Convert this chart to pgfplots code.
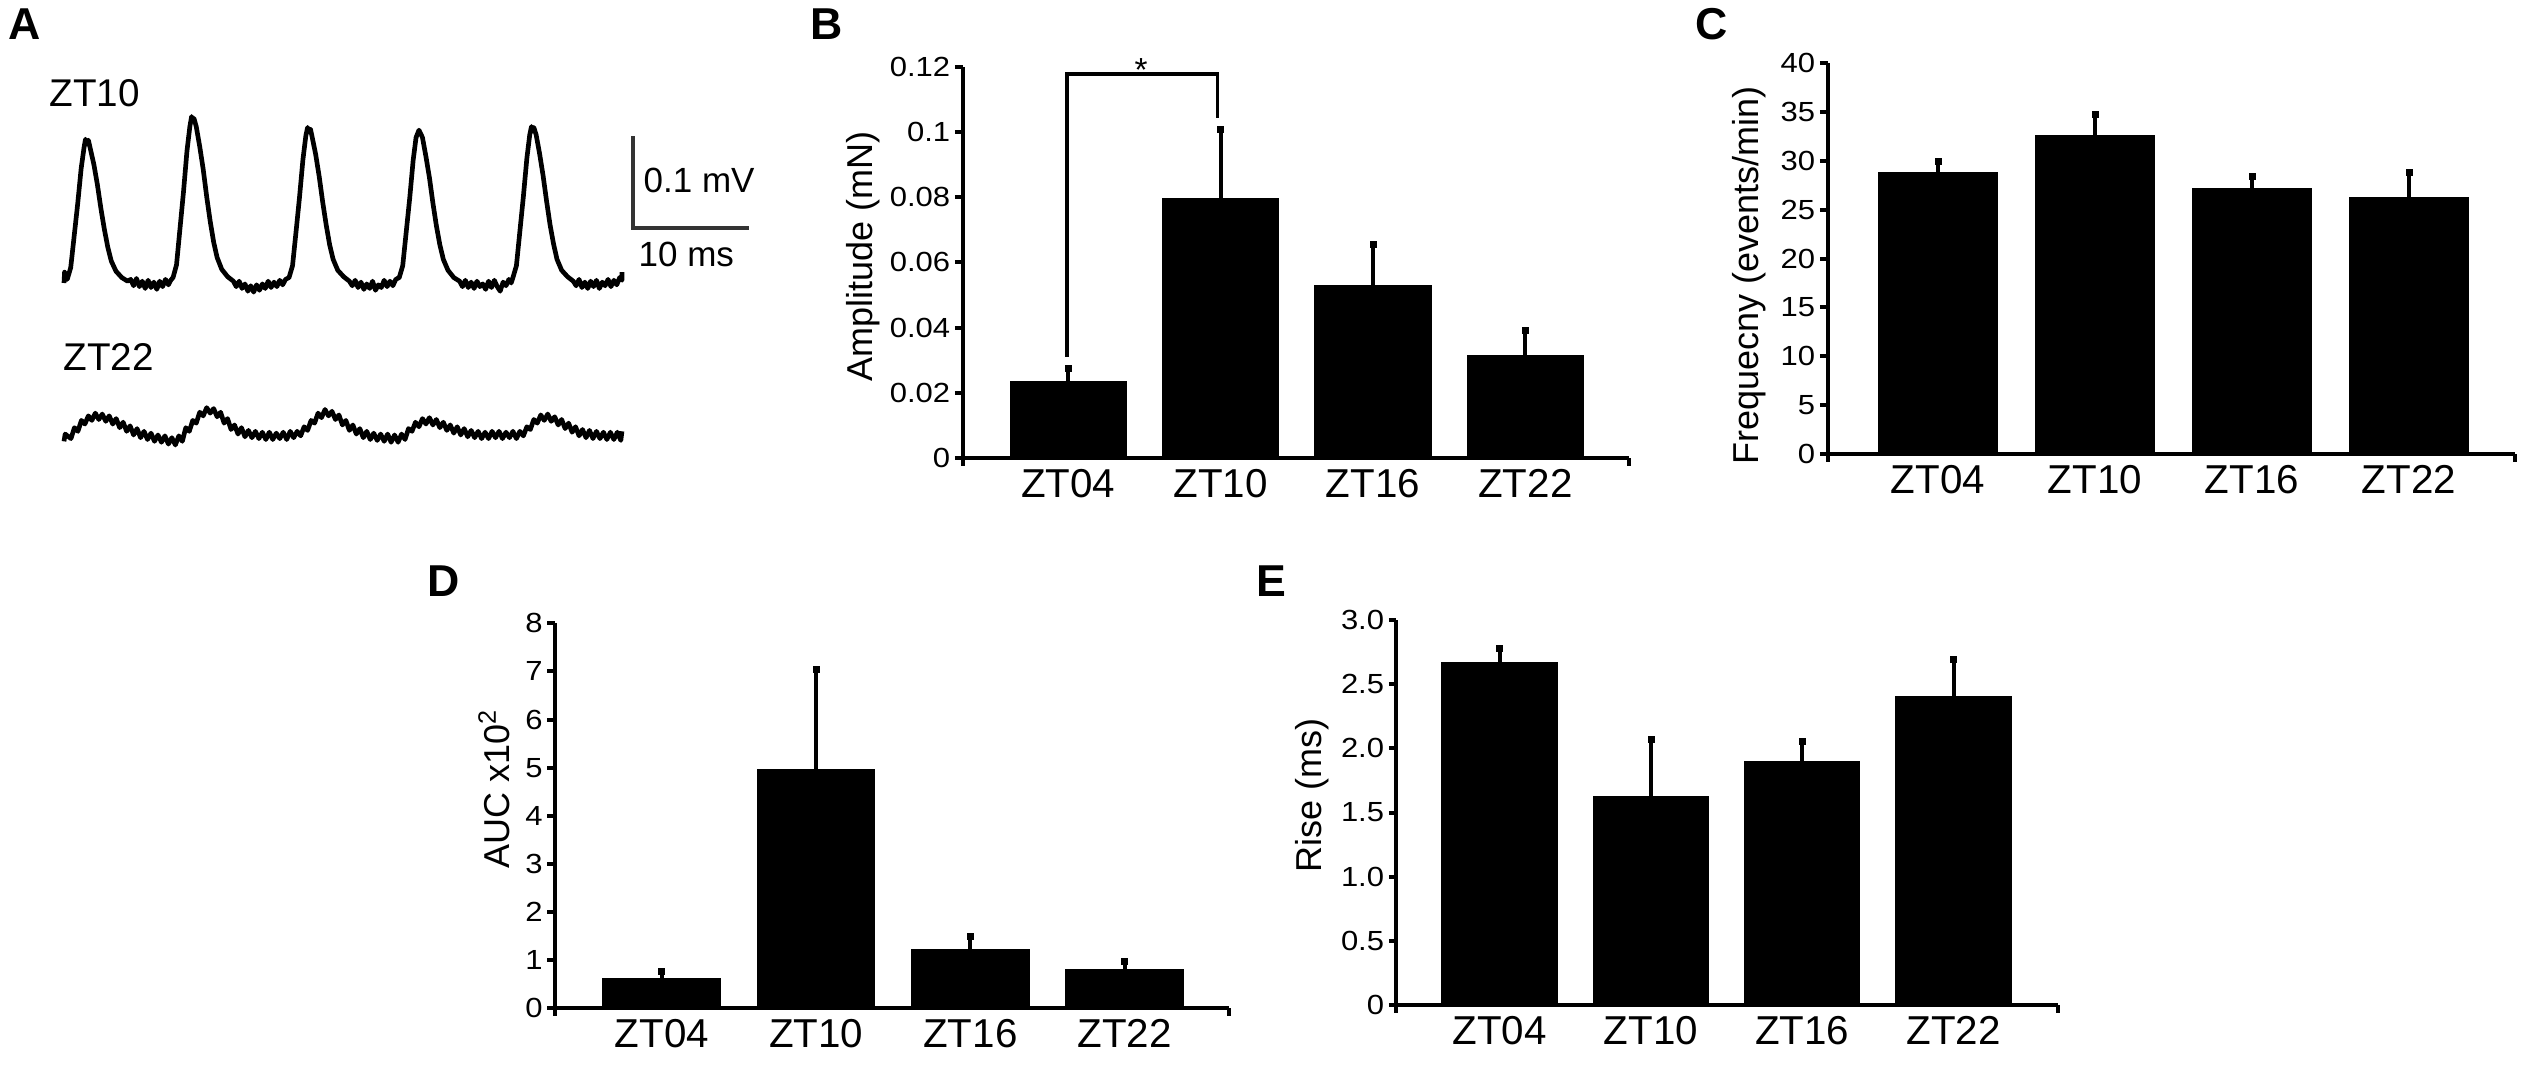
\documentclass[border=0pt]{standalone}
\usepackage{pgfplots}
\pgfplotsset{compat=1.18}
\usepackage{fontspec}
\setmainfont{Liberation Sans}
\newfontfamily\tickfont{Liberation Sans}[FakeStretch=1.12]
\pgfplotsset{
  barax/.style={
    scale only axis, clip=false,
    axis lines=left,
    axis line style={line width=1.2pt,-},
    tick align=outside,
    major tick length=2.3pt,
    ytick style={line width=1.2pt,black},
    xtick style={draw=none},
    xtick={1,2,3,4},
    xticklabels={ZT04,ZT10,ZT16,ZT22},
    ymin=0,
    x tick label style={font=\fontsize{12.1}{14}\selectfont, inner sep=0pt, anchor=north, yshift=-0.8pt},
    y tick label style={font=\tickfont\fontsize{8.3}{10}\selectfont, inner sep=0pt, anchor=east, xshift=-1.2pt},
    ylabel style={font=\fontsize{10.8}{13}\selectfont, anchor=base, inner sep=0pt},
  },
  barplot/.style={ybar, bar width=0.76, fill=black, draw=black, line width=0.4pt,
    error bars/.cd, y dir=plus, y explicit,
    error bar style={line width=1.2pt, black},
    error mark=square*, error mark options={mark size=0.9pt, line width=0.2pt, black}},
}
\begin{document}
\begin{tikzpicture}
\useasboundingbox (0pt,0pt) rectangle (759.9pt,-321.3pt);

% ---------------- Panel A : traces ----------------
\begin{axis}[at={(0pt,-144pt)}, anchor=south west, scale only axis, hide axis, clip=false,
  width=228pt, height=126pt, xmin=-5.517, xmax=60, ymin=-0.2165, ymax=0.2451]
\addplot[black, line width=1.4pt, line join=round] coordinates {
(0,0.000) (0.05,0.012) (0.15,0.004)
(0.28,0.004) (0.58,0.017) (0.88,0.052) (1.18,0.087) (1.48,0.126) (1.73,0.149) (1.85,0.158) (1.98,0.153) (2.1,0.157) (2.28,0.147) (2.58,0.130) (2.88,0.108) (3.18,0.082) (3.48,0.059) (3.78,0.039) (4.08,0.024) (4.48,0.013) (4.98,0.006) (5.48,0.002)
(5.75,0.004) (6.0,-0.003) (6.25,0.005) (6.5,-0.004) (6.75,0.002) (7.0,-0.006) (7.25,0.003) (7.5,-0.005) (7.75,0.001) (8.0,-0.007) (8.25,0.002) (8.5,-0.004) (8.75,0.004) (9.0,-0.002) (9.2,0.003)
(9.4,0.006) (9.7,0.020) (10.0,0.060) (10.3,0.100) (10.6,0.145) (10.85,0.172) (11.0,0.183) (11.1,0.178) (11.2,0.181) (11.4,0.172) (11.7,0.150) (12.0,0.125) (12.3,0.095) (12.6,0.068) (12.9,0.045) (13.2,0.028) (13.6,0.015) (14.1,0.007) (14.6,0.002)
(14.85,-0.004) (15.1,0.002) (15.35,-0.006) (15.6,-0.001) (15.85,-0.009) (16.1,-0.003) (16.35,-0.010) (16.6,-0.002) (16.85,-0.008) (17.1,-0.001) (17.35,-0.006) (17.6,0.002) (17.85,-0.005) (18.1,0.001) (18.35,-0.004) (18.6,0.003) (18.85,-0.002) (19.1,0.004)
(19.4,0.006) (19.7,0.019) (20.0,0.056) (20.3,0.094) (20.6,0.136) (20.85,0.162) (21.0,0.171) (21.1,0.166) (21.25,0.169) (21.4,0.160) (21.7,0.141) (22.0,0.117) (22.3,0.089) (22.6,0.064) (22.9,0.042) (23.2,0.026) (23.6,0.014) (24.1,0.007) (24.6,0.002)
(24.85,-0.003) (25.1,0.003) (25.35,-0.005) (25.6,0.001) (25.85,-0.007) (26.1,-0.001) (26.35,-0.006) (26.6,0.002) (26.85,-0.008) (27.1,-0.002) (27.35,-0.005) (27.6,0.003) (27.85,-0.004) (28.1,0.002) (28.35,-0.003) (28.6,0.004)
(28.9,0.006) (29.2,0.019) (29.5,0.056) (29.8,0.093) (30.1,0.135) (30.35,0.160) (30.6,0.168) (30.9,0.160) (31.2,0.139) (31.5,0.116) (31.8,0.088) (32.1,0.063) (32.4,0.042) (32.7,0.026) (33.1,0.014) (33.6,0.006) (34.1,0.002)
(34.35,-0.004) (34.6,0.003) (34.85,-0.005) (35.1,0.001) (35.35,-0.006) (35.6,0.002) (35.85,-0.004) (36.1,-0.001) (36.35,-0.007) (36.6,0.002) (36.85,-0.005) (37.1,0.003) (37.35,-0.004) (37.6,-0.009) (37.85,0.001) (38.1,-0.003) (38.35,0.004) (38.55,0.000)
(38.7,0.006) (39.0,0.019) (39.3,0.057) (39.6,0.095) (39.9,0.137) (40.15,0.163) (40.3,0.172) (40.4,0.167) (40.5,0.171) (40.7,0.163) (41.0,0.142) (41.3,0.118) (41.6,0.090) (41.9,0.064) (42.2,0.043) (42.5,0.026) (42.9,0.014) (43.4,0.007) (43.9,0.002)
(44.15,-0.003) (44.4,0.004) (44.65,-0.005) (44.9,0.001) (45.15,-0.006) (45.4,0.002) (45.65,-0.004) (45.9,0.003) (46.15,-0.006) (46.4,0.001) (46.65,-0.003) (46.9,0.004) (47.15,-0.004) (47.4,0.003) (47.65,-0.002) (47.9,0.006) (48.1,0.003) (48.1,0.012)
};
\addplot[black, line width=1.4pt, line join=round] coordinates {
(0.0,-0.174) (0.1,-0.166) (0.3,-0.168) (0.6,-0.171) (0.9,-0.159) (1.2,-0.163) (1.5,-0.151) (1.8,-0.155) (2.1,-0.146) (2.4,-0.151) (2.7,-0.143) (3.0,-0.150) (3.3,-0.144) (3.6,-0.152) (3.9,-0.146) (4.2,-0.155) (4.5,-0.149) (4.8,-0.159) (5.1,-0.153) (5.4,-0.163) (5.7,-0.157) (6.0,-0.167) (6.3,-0.160) (6.6,-0.170) (6.9,-0.163) (7.2,-0.172) (7.5,-0.165) (7.8,-0.174) (8.1,-0.167) (8.4,-0.175) (8.7,-0.168) (9.0,-0.177) (9.3,-0.170) (9.6,-0.178) (9.9,-0.168) (10.2,-0.174) (10.5,-0.159) (10.8,-0.163) (11.1,-0.151) (11.4,-0.154) (11.7,-0.142) (12.0,-0.146) (12.3,-0.137) (12.6,-0.143) (12.9,-0.138) (13.2,-0.147) (13.5,-0.142) (13.8,-0.154) (14.1,-0.149) (14.4,-0.161) (14.7,-0.156) (15.0,-0.166) (15.3,-0.159) (15.6,-0.169) (15.9,-0.162) (16.2,-0.170) (16.5,-0.163) (16.8,-0.171) (17.1,-0.164) (17.4,-0.172) (17.7,-0.164) (18.0,-0.172) (18.3,-0.165) (18.6,-0.171) (18.9,-0.164) (19.2,-0.172) (19.5,-0.163) (19.8,-0.170) (20.1,-0.163) (20.4,-0.168) (20.7,-0.158) (21.0,-0.162) (21.3,-0.151) (21.6,-0.154) (21.9,-0.143) (22.2,-0.148) (22.5,-0.139) (22.8,-0.146) (23.1,-0.141) (23.4,-0.150) (23.7,-0.145) (24.0,-0.156) (24.3,-0.151) (24.6,-0.162) (24.9,-0.156) (25.2,-0.166) (25.5,-0.160) (25.8,-0.170) (26.1,-0.163) (26.4,-0.172) (26.7,-0.165) (27.0,-0.173) (27.3,-0.166) (27.6,-0.174) (27.9,-0.166) (28.2,-0.175) (28.5,-0.167) (28.8,-0.175) (29.1,-0.166) (29.4,-0.172) (29.7,-0.160) (30.0,-0.163) (30.3,-0.153) (30.6,-0.158) (30.9,-0.149) (31.2,-0.155) (31.5,-0.148) (31.8,-0.156) (32.1,-0.150) (32.4,-0.159) (32.7,-0.153) (33.0,-0.162) (33.3,-0.156) (33.6,-0.165) (33.9,-0.158) (34.2,-0.167) (34.5,-0.160) (34.8,-0.169) (35.1,-0.162) (35.4,-0.170) (35.7,-0.163) (36.0,-0.171) (36.3,-0.164) (36.6,-0.171) (36.9,-0.163) (37.2,-0.170) (37.5,-0.163) (37.8,-0.171) (38.1,-0.164) (38.4,-0.170) (38.7,-0.163) (39.0,-0.171) (39.3,-0.163) (39.6,-0.168) (39.9,-0.158) (40.2,-0.161) (40.5,-0.150) (40.8,-0.154) (41.1,-0.145) (41.4,-0.151) (41.7,-0.144) (42.0,-0.152) (42.3,-0.147) (42.6,-0.156) (42.9,-0.150) (43.2,-0.160) (43.5,-0.154) (43.8,-0.164) (44.1,-0.158) (44.4,-0.168) (44.7,-0.161) (45.0,-0.170) (45.3,-0.162) (45.6,-0.171) (45.9,-0.163) (46.2,-0.171) (46.5,-0.164) (46.8,-0.172) (47.1,-0.164) (47.4,-0.172) (47.7,-0.164) (48.0,-0.173) (48.1,-0.163)
};
% scale bar: 10 ms x 0.1 mV
\addplot[black!80, line width=1pt, line join=miter] coordinates {(49.05,0.1615) (49.05,0.0604) (59.05,0.0604)};
\end{axis}
\node[anchor=base west, inner sep=0pt, font=\fontsize{11.6}{13}\selectfont] at (14.7pt,-32.1pt) {ZT10};
\node[anchor=base west, inner sep=0pt, font=\fontsize{11.6}{13}\selectfont] at (18.9pt,-111pt) {ZT22};
\node[anchor=base west, inner sep=0pt, font=\fontsize{10.5}{12}\selectfont] at (192.9pt,-57.6pt) {0.1 mV};
\node[anchor=base west, inner sep=0pt, font=\fontsize{10.5}{12}\selectfont] at (191.4pt,-79.8pt) {10 ms};

% ---------------- Panel B ----------------
\begin{axis}[barax, at={(288.75pt,-137.4pt)}, anchor=south west,
  width=199.95pt, height=117.39pt, xmin=0.307, xmax=4.68, ymax=0.12,
  ytick={0,0.02,0.04,0.06,0.08,0.1,0.12},
  yticklabels={0,0.02,0.04,0.06,0.08,0.1,0.12},
  ylabel={Amplitude (mN)},
  ylabel style={at={(rel axis cs:-0.1358,0.516)}}]
\addplot[barplot] coordinates {(1,0.0235) +- (0,0.0041) (2,0.0794) +- (0,0.0214) (3,0.0529) +- (0,0.0125) (4,0.0315) +- (0,0.0075)};
\addplot[black, line width=1pt, line join=miter] coordinates {(0.993,0.0311) (0.993,0.1178) (1.978,0.1178) (1.978,0.1042)};
\draw[line width=1.2pt] (rel axis cs:0,0) -- ++(0pt,-2.3pt);
\draw[line width=1.2pt] (rel axis cs:1,0) -- ++(0pt,-2.3pt);
\end{axis}
\node[anchor=base, inner sep=0pt, font=\fontsize{10}{12}\selectfont] at (342.3pt,-24.3pt) {*};

% ---------------- Panel C ----------------
\begin{axis}[barax, at={(548.25pt,-136.2pt)}, anchor=south west,
  width=206.25pt, height=117.21pt, xmin=0.296, xmax=4.675, ymax=40,
  ytick={0,5,10,15,20,25,30,35,40},
  yticklabels={0,5,10,15,20,25,30,35,40},
  ylabel={Frequecny (events/min)},
  ylabel style={at={(rel axis cs:-0.101,0.457)}}]
\addplot[barplot] coordinates {(1,28.8) +- (0,1.2) (2,32.56) +- (0,2.24) (3,27.2) +- (0,1.2) (4,26.25) +- (0,2.55)};
\draw[line width=1.2pt] (rel axis cs:0,0) -- ++(0pt,-2.3pt);
\draw[line width=1.2pt] (rel axis cs:1,0) -- ++(0pt,-2.3pt);
\end{axis}

% ---------------- Panel D ----------------
\begin{axis}[barax, at={(166.5pt,-302.49pt)}, anchor=south west,
  width=202.2pt, height=115.5pt, xmin=0.308, xmax=4.676, ymax=8,
  ytick={0,1,2,3,4,5,6,7,8},
  yticklabels={0,1,2,3,4,5,6,7,8},
  ylabel={AUC x10\textsuperscript{2}},
  ylabel style={at={(rel axis cs:-0.0682,0.5696)}}]
\addplot[barplot] coordinates {(1,0.62) +- (0,0.14) (2,4.95) +- (0,2.10) (3,1.226) +- (0,0.27) (4,0.81) +- (0,0.16)};
\draw[line width=1.2pt] (rel axis cs:0,0) -- ++(0pt,-2.3pt);
\draw[line width=1.2pt] (rel axis cs:1,0) -- ++(0pt,-2.3pt);
\end{axis}

% ---------------- Panel E ----------------
\begin{axis}[barax, at={(418.92pt,-301.5pt)}, anchor=south west,
  width=198.48pt, height=115.5pt, xmin=0.318, xmax=4.69, ymax=3,
  ytick={0,0.5,1,1.5,2,2.5,3},
  yticklabels={0,0.5,1.0,1.5,2.0,2.5,3.0},
  ylabel={Rise (ms)},
  ylabel style={at={(rel axis cs:-0.1125,0.545)}}]
\addplot[barplot] coordinates {(1,2.67) +- (0,0.11) (2,1.623) +- (0,0.45) (3,1.90) +- (0,0.157) (4,2.40) +- (0,0.29)};
\draw[line width=1.2pt] (rel axis cs:0,0) -- ++(0pt,-2.3pt);
\draw[line width=1.2pt] (rel axis cs:1,0) -- ++(0pt,-2.3pt);
\end{axis}

% ---------------- panel letters ----------------
\node[anchor=base west, inner sep=0pt, font=\fontsize{13.4}{15}\selectfont\bfseries] at (2.3pt,-11.85pt) {A};
\node[anchor=base west, inner sep=0pt, font=\fontsize{13.4}{15}\selectfont\bfseries] at (242.9pt,-11.8pt) {B};
\node[anchor=base west, inner sep=0pt, font=\fontsize{13.4}{15}\selectfont\bfseries] at (508.5pt,-11.8pt) {C};
\node[anchor=base west, inner sep=0pt, font=\fontsize{13.4}{15}\selectfont\bfseries] at (127.9pt,-179pt) {D};
\node[anchor=base west, inner sep=0pt, font=\fontsize{13.4}{15}\selectfont\bfseries] at (376.7pt,-179pt) {E};
\end{tikzpicture}
\end{document}
